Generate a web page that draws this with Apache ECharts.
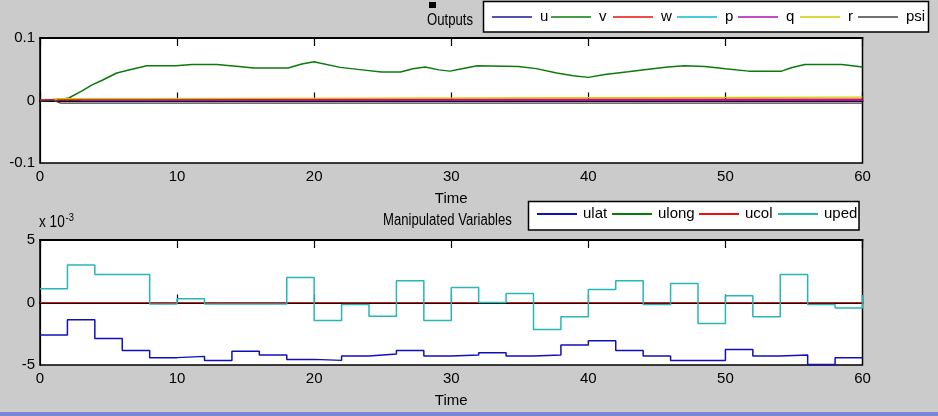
<!DOCTYPE html>
<html>
<head>
<meta charset="utf-8">
<script src="https://cdn.jsdelivr.net/npm/echarts@6/dist/echarts.min.js"></script>
<style>
html,body{margin:0;padding:0;background:#cbcbcb;}
#c{width:938px;height:416px;}
</style>
</head>
<body>
<div id="c"></div>
<script>
// ---------- Data: Outputs (top plot) ----------
var xTicks = [0, 10, 20, 30, 40, 50, 60];
var outNames = ['u', 'v', 'w', 'p', 'q', 'r', 'psi'];

var vTime   = [0, 1.5, 2.1, 3.0, 3.8, 4.5, 5.6, 6.7, 7.8, 9.9, 11.1, 12.9, 14.5, 15.6, 18.1, 19.1, 20.0, 20.4, 21.9, 23.5, 24.9, 26.3, 27.2, 28.1, 29.1, 29.9, 30.6, 31.9, 34.9, 36.2, 37.7, 38.9, 40.0, 41.2, 42.9, 44.4, 45.8, 47.0, 48.5, 50.0, 51.7, 54.1, 54.8, 55.8, 58.5, 60];
var vValues = [0, 0.002, 0.004, 0.0145, 0.025, 0.032, 0.044, 0.050, 0.0556, 0.0556, 0.0577, 0.0577, 0.0545, 0.052, 0.052, 0.0583, 0.062, 0.060, 0.053, 0.049, 0.0455, 0.0455, 0.0508, 0.0535, 0.049, 0.047, 0.050, 0.0556, 0.0545, 0.051, 0.044, 0.0396, 0.037, 0.0417, 0.046, 0.050, 0.0535, 0.0556, 0.0545, 0.0508, 0.047, 0.047, 0.0524, 0.0577, 0.0577, 0.0535];

var uTime = [0, 60];          var uValues = [0, 0];
var wTime = [0, 1.5, 60];     var wValues = [0, 0.0015, 0.0015];
var pTime = [3, 60];          var pValues = [0, 0];
var qTime = [3, 60];          var qValues = [0.0003, 0.0003];
var rTime = [0, 1.0, 1.3, 7.0, 7.0, 60];
var rValues = [0, 0, 0.003, 0.003, 0.0055, 0.0055];
var psiTime = [0, 1.0, 1.5, 60];
var psiValues = [0, 0, -0.0042, -0.0042];

// ---------- Data: Manipulated Variables (bottom plot, units of 1e-3) ----------
var mvNames = ['ulat', 'ulong', 'ucol', 'uped'];
var mvTime = [0,2,4,6,8,10,12,14,16,18,20,22,24,26,28,30,32,34,36,38,40,42,44,46,48,50,52,54,56,58,60];
var ulatValues = [-2.6,-1.37,-2.87,-3.83,-4.41,-4.31,-4.63,-3.9,-4.2,-4.55,-4.63,-4.28,-4.12,-3.83,-4.28,-4.2,-4.01,-4.28,-4.2,-3.4,-3.05,-3.83,-4.28,-4.63,-4.63,-3.75,-4.28,-4.2,-4.95,-4.41,-4.41];
var ulongValues = [0,0,0,0,0,0,0,0,0,0,0,0,0,0,0,0,0,0,0,0,0,0,0,0,0,0,0,0,0,0,0];
var ucolValues  = [0,0,0,0,0,0,0,0,0,0,0,0,0,0,0,0,0,0,0,0,0,0,0,0,0,0,0,0,0,0,0];
var upedValues = [1.1,3.0,2.25,2.25,-0.12,0.3,-0.12,-0.12,-0.12,2.0,-1.43,-0.15,-1.1,1.75,-1.43,1.2,0.0,0.73,-2.15,-1.13,1.05,1.75,-0.15,1.53,-1.67,0.55,-1.13,2.25,-0.15,-0.44,0.6];

// ---------- Build chart ----------
function pairs(t, v){ return t.map(function(x,i){ return [x, v[i]]; }); }

var FONT = "'Liberation Sans',Arial,sans-serif";
var FS = 15;
var outColors = {u:'#1a1a9a', v:'#0b7a0b', w:'#e81010', p:'#10b8c8', q:'#b010b0', r:'#cccc00', psi:'#404040'};
var mvColors = {ulat:'#1010b8', ulong:'#0b7a0b', ucol:'#e81010', uped:'#28b6b6'};
var mvWidths = {ulat:1.5, ulong:1, ucol:1, uped:1.5};

var chart = echarts.init(document.getElementById('c'), null, {renderer:'canvas'});

function xAx(grid, pos, labels, nameGap){
  return {
    type:'value', gridIndex:grid, position:pos, min:0, max:60, interval:10,
    axisLine:{show: true, lineStyle:{color:'#000', width: 2}},
    axisTick:{show:true, inside:true, length:8, lineStyle:{color:'#000', width:1.2}},
    axisLabel:{show:labels, margin:6, color:'#000', fontFamily:FONT, fontSize:FS},
    splitLine:{show:false},
    name: labels ? 'Time' : '', nameLocation:'middle', nameGap:nameGap,
    nameTextStyle:{color:'#000', fontFamily:FONT, fontSize:FS}
  };
}
function yAx(grid, mn, mx, iv){
  return {
    type:'value', gridIndex:grid, min:mn, max:mx, interval:iv,
    axisLine:{show:true, lineStyle:{color:'#000', width:1.2}},
    axisTick:{show:false},
    axisLabel:{margin:5, color:'#000', fontFamily:FONT, fontSize:FS},
    splitLine:{show:false}
  };
}

var outData = {
  u: pairs(uTime, uValues), v: pairs(vTime, vValues), w: pairs(wTime, wValues),
  p: pairs(pTime, pValues), q: pairs(qTime, qValues), r: pairs(rTime, rValues),
  psi: pairs(psiTime, psiValues)
};
var outWidths = {u:1.5, v:1.5, w:2, p:1, q:1.5, r:1.2, psi:1.2};
var mvData = {
  ulat: pairs(mvTime, ulatValues), ulong: pairs(mvTime, ulongValues),
  ucol: pairs(mvTime, ucolValues), uped: pairs(mvTime, upedValues)
};

var series = [];
outNames.forEach(function(n){
  series.push({name:n, type:'line', xAxisIndex:0, yAxisIndex:0, data:outData[n],
    symbol:'none', lineStyle:{color:outColors[n], width:outWidths[n]}, itemStyle:{color:outColors[n]}});
});
mvNames.forEach(function(n){
  series.push({name:n, type:'line', xAxisIndex:2, yAxisIndex:1, data:mvData[n], step:'end',
    symbol:'none', lineStyle:{color:mvColors[n], width:mvWidths[n]}, itemStyle:{color:mvColors[n]}});
});

var outLegendLeft = [492, 551, 613, 677, 738, 800, 858];
var mvLegendLeft = [537, 612, 699, 778];
var legends = [];
outNames.forEach(function(n, i){
  legends.push({data:[{name:n, icon:'rect'}], left:outLegendLeft[i], top:9, padding:0, itemWidth:40, itemHeight:1.6,
    selectedMode:false, textStyle:{color:'#000', fontFamily:FONT, fontSize:FS, lineHeight:16, padding:[0,0,0,3]}});
});
mvNames.forEach(function(n, i){
  legends.push({data:[{name:n, icon:'rect'}], left:mvLegendLeft[i], top:206, padding:0, itemWidth:40, itemHeight:2,
    selectedMode:false, textStyle:{color:'#000', fontFamily:FONT, fontSize:FS, lineHeight:16, padding:[0,0,0,1]}});
});

chart.setOption({
  animation:false,
  backgroundColor:'#cbcbcb',
  grid:[
    {left:40, top:38, width:822.5, height:125, show:true, backgroundColor:'#fff', borderColor:'#000', borderWidth:1.5},
    {left:40, top:240, width:822.5, height:125, show:true, backgroundColor:'#fff', borderColor:'#000', borderWidth:1.5}
  ],
  xAxis:[ xAx(0,'bottom',true,28), xAx(0,'top',false,0), xAx(1,'bottom',true,28), xAx(1,'top',false,0) ],
  yAxis:[ yAx(0,-0.1,0.1,0.1), yAx(1,-5,5,5) ],
  legend: legends,
  graphic:[
    {type:'rect', z:-1, shape:{x:483.5, y:1.5, width:445, height:30.5}, style:{fill:'#fff', stroke:'#000', lineWidth:1.5}},
    {type:'rect', z:-1, shape:{x:528.5, y:201.5, width:330.5, height:28.5}, style:{fill:'#fff', stroke:'#000', lineWidth:1.5}},
    {type:'rect', shape:{x:429, y:2, width:7, height:6}, style:{fill:'#000'}},
    {type:'text', x:427, y:13, scaleX:0.82, style:{text:'Outputs', fill:'#000', font:'16px ' + FONT}},
    {type:'text', x:383, y:213, scaleX:0.82, style:{text:'Manipulated Variables', fill:'#000', font:'16px ' + FONT}},
    {type:'text', x:39, y:212, scaleX:0.85, style:{
      text:'x 10{s|-3}', fill:'#000', font:'16px ' + FONT,
      rich:{s:{fontSize:11, fontFamily:FONT, fill:'#000', verticalAlign:'top', padding:[0,0,10,1]}}
    }},
    {type:'rect', shape:{x:0, y:412, width:938, height:4}, style:{fill:'#7a86d6'}}
  ],
  series: series
});
</script>
</body>
</html>
